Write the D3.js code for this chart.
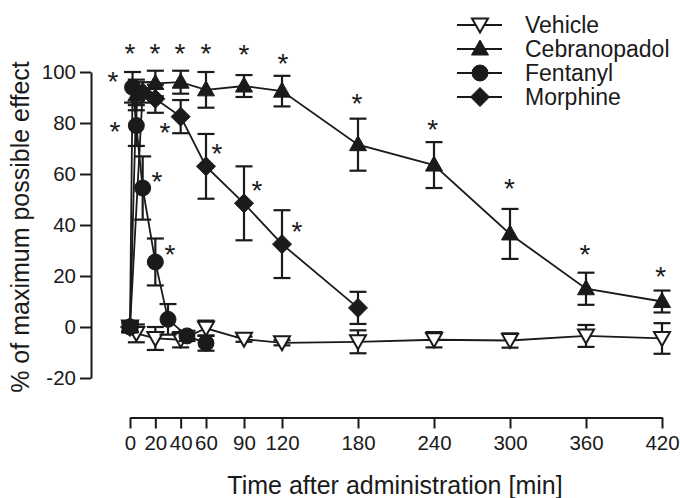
<!DOCTYPE html>
<html>
<head>
<meta charset="utf-8">
<script src="https://cdn.jsdelivr.net/npm/d3@7/dist/d3.min.js"></script>
<style>
  html, body { margin: 0; padding: 0; background: #fff; }
  svg { display: block; }
  text { font-family: "Liberation Sans", Arial, Helvetica, sans-serif; fill: #1a1a1a; }
</style>
</head>
<body>
<div id="chart"></div>
<script>
// ---- data ----
const seriesNames = ["Vehicle", "Cebranopadol", "Fentanyl", "Morphine"];

const vehicleTimes = [0, 5, 20, 40, 60, 90, 120, 180, 240, 300, 360, 420];
const vehicleMean  = [0, -2.5, -4.5, -5, -0.5, -4.8, -6.2, -5.8, -5, -5.3, -3.5, -4.5];
const vehicleSem   = [2, 3.5, 4.5, 3, 3, 1, 1, 4.5, 3, 2.8, 4.3, 6];

const cebTimes = [0, 5, 20, 40, 60, 90, 120, 180, 240, 300, 360, 420];
const cebMean  = [0, 91, 95.5, 96, 93, 94.5, 92.5, 71.5, 63.5, 36.5, 15, 10];
const cebSem   = [2, 6, 5, 4.5, 7, 4.3, 6, 10.2, 9, 9.8, 6.3, 4.3];

const fenTimes = [0, 2, 5, 10, 20, 30, 45, 60];
const fenMean  = [0, 94, 79, 54.5, 25.5, 3, -3.5, -6.3];
const fenSem   = [1.5, 6, 8, 12.4, 9.2, 6, 2, 3];

const morTimes = [0, 10, 20, 40, 60, 90, 120, 180];
const morMean  = [0, 92, 89.5, 82.5, 63, 48.5, 32.5, 7.5];
const morSem   = [1.5, 4, 5.5, 6.5, 12.7, 14.5, 13.3, 6.3];

// significance asterisks (time, value) positions
const starTimes  = [0, 19.7, 39.5, 60, 90, 120.8, 179.2, 239, 299.6, 359.2, 419,
                    -13.4, -11.8, 21.3, 31.6, 27.6, 68.7, 100.3, 131.8];
const starValues = [109.8, 109.8, 109.8, 109.8, 109.4, 105.9, 90.2, 80, 56.9, 31, 22.4,
                    98.8, 79.2, 59.6, 31, 78.8, 70.6, 56.1, 40];

const xTicks = [0, 20, 40, 60, 90, 120, 180, 240, 300, 360, 420];
const yTicks = [-20, 0, 20, 40, 60, 80, 100];
const xTitle = "Time after administration [min]";
const yTitle = "% of maximum possible effect";

// ---- layout ----
const W = 680, H = 498;
const svg = d3.select("#chart").append("svg").attr("width", W).attr("height", H);
const ink = "#1a1a1a";

const x = d3.scaleLinear().domain([0, 420]).range([130, 662]);
const y = d3.scaleLinear().domain([-20, 100]).range([378, 72]);

// y axis
const yAxis = svg.append("g").attr("transform", "translate(91,0)")
  .call(d3.axisLeft(y).tickValues(yTicks).tickFormat(d => String(d))
    .tickSize(11).tickPadding(4).tickSizeOuter(0));
yAxis.select(".domain").attr("stroke", ink).attr("stroke-width", 2);
yAxis.selectAll(".tick line").attr("stroke", ink).attr("stroke-width", 2);
yAxis.selectAll(".tick text").attr("font-size", 20.5).attr("fill", ink)
  .style("font-family", '"Liberation Sans", Arial, sans-serif');

// x axis
const xAxis = svg.append("g").attr("transform", "translate(0,417.5)")
  .call(d3.axisBottom(x).tickValues(xTicks).tickFormat(d => String(d))
    .tickSize(11).tickPadding(7).tickSizeOuter(0));
xAxis.select(".domain").attr("stroke", ink).attr("stroke-width", 2);
xAxis.selectAll(".tick line").attr("stroke", ink).attr("stroke-width", 2);
xAxis.selectAll(".tick text").attr("font-size", 20.5).attr("fill", ink)
  .style("font-family", '"Liberation Sans", Arial, sans-serif');

// titles
svg.append("text").attr("x", 395).attr("y", 494).attr("text-anchor", "middle")
  .attr("font-size", 25).text(xTitle);
svg.append("text").attr("transform", "translate(29,227) rotate(-90)")
  .attr("text-anchor", "middle").attr("font-size", 25).text(yTitle);

// ---- markers ----
function markerPath(kind) {
  if (kind === "circle") return d3.symbol().type(d3.symbolCircle).size(Math.PI * 8 * 8)();
  if (kind === "tri") return "M0,-9 L8.5,6 L-8.5,6 Z";
  if (kind === "itri") return "M-8,-6.5 L8,-6.5 L0,7.5 Z";
  if (kind === "diamond") return "M0,-9.5 L9.5,0 L0,9.5 L-9.5,0 Z";
}

const series = [
  { name: seriesNames[0], t: vehicleTimes, m: vehicleMean, s: vehicleSem, kind: "itri", fill: "#fff" },
  { name: seriesNames[1], t: cebTimes, m: cebMean, s: cebSem, kind: "tri", fill: ink },
  { name: seriesNames[2], t: fenTimes, m: fenMean, s: fenSem, kind: "circle", fill: ink },
  { name: seriesNames[3], t: morTimes, m: morMean, s: morSem, kind: "diamond", fill: ink }
];

const line = d3.line().x(d => x(d.t)).y(d => y(d.m));

series.forEach(sr => {
  const pts = sr.t.map((t, i) => ({ t, m: sr.m[i], s: sr.s[i] }));
  const g = svg.append("g");
  g.append("path").datum(pts).attr("d", line).attr("fill", "none")
    .attr("stroke", ink).attr("stroke-width", 1.8);
  const eb = g.selectAll(".eb").data(pts).enter().append("g");
  eb.append("line").attr("x1", d => x(d.t)).attr("x2", d => x(d.t))
    .attr("y1", d => y(d.m + d.s)).attr("y2", d => y(d.m - d.s))
    .attr("stroke", ink).attr("stroke-width", 2.2);
  [1, -1].forEach(sign => {
    eb.append("line").attr("x1", d => x(d.t) - 8.5).attr("x2", d => x(d.t) + 8.5)
      .attr("y1", d => y(d.m + sign * d.s)).attr("y2", d => y(d.m + sign * d.s))
      .attr("stroke", ink).attr("stroke-width", 2.2);
  });
  g.selectAll(".mk").data(pts).enter().append("path")
    .attr("d", markerPath(sr.kind))
    .attr("transform", d => `translate(${x(d.t)},${y(d.m)})`)
    .attr("fill", sr.fill).attr("stroke", ink).attr("stroke-width", sr.kind === "itri" ? 2 : 1);
});

// asterisks
svg.selectAll(".star").data(starTimes.map((t, i) => ({ t, v: starValues[i] }))).enter()
  .append("text").attr("x", d => x(d.t)).attr("y", d => y(d.v) + 16)
  .attr("text-anchor", "middle").attr("font-size", 28).text("*");

// legend
const legY = [25, 49, 73, 97];
series.forEach((sr, i) => {
  const g = svg.append("g").attr("transform", `translate(0,${legY[i]})`);
  g.append("line").attr("x1", 457).attr("x2", 502).attr("y1", 0).attr("y2", 0)
    .attr("stroke", ink).attr("stroke-width", 1.8);
  g.append("path").attr("d", markerPath(sr.kind)).attr("transform", "translate(480,0)")
    .attr("fill", sr.fill).attr("stroke", ink).attr("stroke-width", sr.kind === "itri" ? 2 : 1);
  g.append("text").attr("x", 525).attr("y", 8.3).attr("font-size", 23).text(sr.name);
});
</script>
</body>
</html>
